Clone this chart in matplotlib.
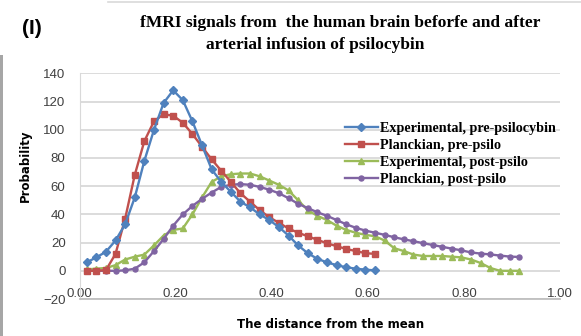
import matplotlib
matplotlib.use("Agg")
import matplotlib.pyplot as plt
from matplotlib.lines import Line2D
from matplotlib.patches import Rectangle

# distance from the mean (bin centres)
distance = [0.015, 0.035, 0.055, 0.075, 0.095, 0.115, 0.135, 0.155, 0.175, 0.195,
            0.215, 0.235, 0.255, 0.275, 0.295, 0.315, 0.335, 0.355, 0.375, 0.395,
            0.415, 0.435, 0.455, 0.475, 0.495, 0.515, 0.535, 0.555, 0.575, 0.595,
            0.615, 0.635, 0.655, 0.675, 0.695, 0.715, 0.735, 0.755, 0.775, 0.795,
            0.815, 0.835, 0.855, 0.875, 0.895, 0.915]

exp_pre = [6, 9.5, 13.5, 21.5, 33, 52, 78, 100, 119, 128,
           121, 106, 89, 72, 63, 56, 49, 45, 40, 36,
           31, 25, 18, 12.5, 8.5, 6, 4, 2.5, 1.5, 0.8, 0.3]

planck_pre = [0, 0, 0.5, 12, 37, 68, 92, 106, 111, 110,
              105, 97, 88, 79, 71, 63, 55, 49, 43, 38,
              34, 30, 27, 24.5, 22, 19.5, 17.5, 15.5, 14, 12.5, 12]

exp_post = [1, 1.5, 2, 4, 8, 10, 11.5, 18, 25, 29,
            30, 40, 52, 63, 67, 68.5, 69, 69, 67, 64,
            61, 57, 50, 43, 39, 36, 32, 29, 27, 25.5,
            24.5, 21.5, 16, 14, 11.5, 10.5, 10.5, 10.5, 10, 9.5,
            8, 5.5, 2, 0, 0, 0]

planck_post = [0, 0, 0, 0, 0.3, 1.5, 6, 14, 22.5, 32,
               40, 46, 51, 55.5, 59.5, 61, 61.5, 61, 59.5, 57.5,
               55, 51.5, 47.5, 44.5, 41.5, 39, 36, 33, 30.5, 28.5,
               27, 25.5, 23.8, 22.3, 21, 19.6, 18.3, 17, 15.7, 14.5,
               13, 12.2, 11.6, 10.8, 10.1, 9.8]

labels = ["Experimental, pre-psilocybin", "Planckian, pre-psilo",
          "Experimental, post-psilo", "Planckian, post-psilo"]
colors = ["#4F81BD", "#C0504D", "#9BBB59", "#8064A2"]

W, H = 581, 336
fig = plt.figure(figsize=(W / 100, H / 100), dpi=100)
ax = fig.add_axes([79.5 / W, 1 - 299 / H, 480.5 / W, 225.6 / H])

n_pre = len(exp_pre)
ax.plot(distance[:n_pre], exp_pre, color=colors[0], lw=1.7, marker="D", ms=3.8,
        label=labels[0], zorder=5)
ax.plot(distance[:n_pre], planck_pre, color=colors[1], lw=1.7, marker="s", ms=4.3,
        label=labels[1], zorder=4)
ax.plot(distance, exp_post, color=colors[2], lw=1.7, marker="^", ms=4.8,
        label=labels[2], zorder=3)
ax.plot(distance, planck_post, color=colors[3], lw=1.7, marker="o", ms=3.6,
        label=labels[3], zorder=3)

ax.set_xlim(0, 1)
ax.set_ylim(-20, 140)
ax.set_xticks([0, 0.2, 0.4, 0.6, 0.8, 1.0])
ax.set_xticklabels(["%.2f" % t for t in [0, 0.2, 0.4, 0.6, 0.8, 1.0]])
ax.set_yticks(range(-20, 141, 20))

ax.grid(axis="y", color="#D9D9D9", lw=1.3)
ax.set_axisbelow(True)
for side in ["top", "right"]:
    ax.spines[side].set_visible(False)
ax.spines["left"].set_color("#D9D9D9")
ax.spines["bottom"].set_color("#BFBFBF")
ax.spines["bottom"].set_linewidth(1.3)

ax.tick_params(axis="both", length=0, colors="#404040")
ax.tick_params(axis="y", pad=10)
ax.tick_params(axis="x", pad=-8)
for lab in ax.get_xticklabels() + ax.get_yticklabels():
    lab.set_fontfamily("Liberation Sans")
    lab.set_fontsize(9.5)

ax.legend(loc="upper left", bbox_to_anchor=(345 / W, 1 - 122 / H),
          bbox_transform=fig.transFigure, frameon=False, borderpad=0,
          borderaxespad=0, handlelength=2.3, handletextpad=0.15,
          labelspacing=0.28,
          prop={"family": "Liberation Serif", "weight": "bold", "size": 10.2})

# titles and axis labels
serif = {"family": "Liberation Serif", "weight": "bold", "size": 12.5}
fig.text(340 / W, 1 - 27 / H, "fMRI signals from  the human brain beforfe and after",
         ha="center", va="baseline", **serif)
fig.text(315 / W, 1 - 49 / H, "arterial infusion of psilocybin",
         ha="center", va="baseline", **serif)
fig.text(32 / W, 1 - 28 / H, "(I)", ha="center", va="center",
         family="Liberation Sans", weight="bold", size=15)
fig.text(25 / W, 1 - 166 / H, "Probability", rotation=90, ha="center",
         va="center", weight="bold", size=8.5)
fig.text(331 / W, 1 - 324 / H, "The distance from the mean", ha="center",
         va="center", weight="bold", size=8.5)

# page frame bits around the panel
fig.add_artist(Line2D([108 / W, 1], [1 - 1.5 / H, 1 - 1.5 / H],
                      color="#D9D9D9", lw=1.2, transform=fig.transFigure))
fig.add_artist(Rectangle((0, 0), 3 / W, 1 - 55 / H, color="#A6A6A6",
                         transform=fig.transFigure, lw=0))

fig.savefig("out.png", dpi=100)
